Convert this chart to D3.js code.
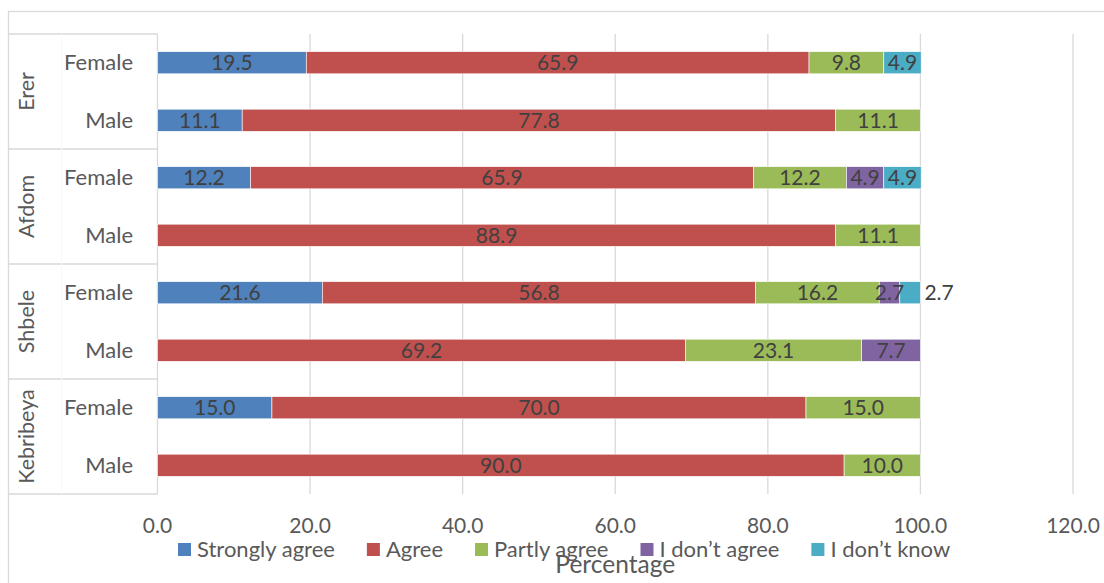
<!DOCTYPE html>
<html>
<head>
<meta charset="utf-8">
<script src="https://cdn.jsdelivr.net/npm/d3@7"></script>
<style>
  html, body { margin: 0; padding: 0; background: #fff; }
  svg { display: block; font-family: Lato, "Open Sans", sans-serif; }
</style>
</head>
<body>
<svg id="chart" width="1104" height="583"></svg>
<script>
// Sites (outer category) and respondent groups (inner category), top to bottom
const sites = ["Erer", "Afdom", "Shbele", "Kebribeya"];
const genders = ["Female", "Male"];

// Response categories in stacking order
const responses = ["Strongly agree", "Agree", "Partly agree", "I don\u2019t agree", "I don\u2019t know"];
const responseColors = ["#4F81BD", "#C0504D", "#9BBB59", "#8064A2", "#4BACC6"];

// Percentages per row (site/gender), one value per response category
const ererFemale      = [19.5, 65.9, 9.8, 0, 4.9];
const ererMale        = [11.1, 77.8, 11.1, 0, 0];
const afdomFemale     = [12.2, 65.9, 12.2, 4.9, 4.9];
const afdomMale       = [0, 88.9, 11.1, 0, 0];
const shbeleFemale    = [21.6, 56.8, 16.2, 2.7, 2.7];
const shbeleMale      = [0, 69.2, 23.1, 7.7, 0];
const kebribeyaFemale = [15.0, 70.0, 15.0, 0, 0];
const kebribeyaMale   = [0, 90.0, 10.0, 0, 0];

const rowValues = [ererFemale, ererMale, afdomFemale, afdomMale,
                   shbeleFemale, shbeleMale, kebribeyaFemale, kebribeyaMale];

// Axis ticks
const xTicks = [0, 20, 40, 60, 80, 100, 120];
const xTitle = "Percentage";

// Build row records
const rows = [];
sites.forEach((s, i) => genders.forEach((g, j) => {
  rows.push({ key: s + "|" + g, site: s, gender: g, values: rowValues[i * genders.length + j] });
}));

const svg = d3.select("#chart");

const plot = { left: 157.5, right: 1073, top: 34, bottom: 494 };
const chartLeft = 8, chartTop = 11;
const gridColor = "#d9d9d9";
const textGrey = "#595959";
const labelGrey = "#404040";

// Chart area border
svg.append("rect")
  .attr("x", chartLeft + 0.5).attr("y", chartTop + 0.5)
  .attr("width", 1200).attr("height", 700)
  .attr("fill", "none").attr("stroke", gridColor).attr("stroke-width", 1.3);

const x = d3.scaleLinear().domain([0, 120]).range([plot.left, plot.right]);
const y = d3.scaleBand().domain(rows.map(r => r.key)).range([plot.top, plot.bottom]).padding(0);
const barH = y.bandwidth() * 0.385;

// Vertical gridlines
svg.append("g").selectAll("line").data(xTicks.filter(t => t > 0)).join("line")
  .attr("x1", d => x(d)).attr("x2", d => x(d))
  .attr("y1", plot.top).attr("y2", plot.bottom)
  .attr("stroke", gridColor).attr("stroke-width", 1.3);

// Category axis line
svg.append("line")
  .attr("x1", x(0)).attr("x2", x(0))
  .attr("y1", plot.top).attr("y2", plot.bottom)
  .attr("stroke", gridColor).attr("stroke-width", 1.3);

// Multi-level category box: group dividers
const groupEdges = sites.map(s => y(s + "|" + genders[0])).concat([plot.bottom]);
svg.append("g").selectAll("line").data(groupEdges).join("line")
  .attr("x1", chartLeft).attr("x2", x(0))
  .attr("y1", d => d).attr("y2", d => d)
  .attr("stroke", gridColor).attr("stroke-width", 1.3);

// Very faint divider between the two label levels
svg.append("line")
  .attr("x1", 61.5).attr("x2", 61.5)
  .attr("y1", plot.top).attr("y2", plot.bottom)
  .attr("stroke", "#f8f8f8").attr("stroke-width", 1);

// Inner category labels
svg.append("g").selectAll("text").data(rows).join("text")
  .attr("x", 133).attr("y", d => y(d.key) + y.bandwidth() / 2)
  .attr("dy", "0.35em")
  .attr("text-anchor", "end")
  .attr("fill", textGrey).attr("font-size", 22)
  .text(d => d.gender);

// Outer category labels (rotated)
svg.append("g").selectAll("text").data(sites).join("text")
  .attr("transform", (s, i) => {
    const cy = (groupEdges[i] + groupEdges[i + 1]) / 2;
    return `translate(26,${cy}) rotate(-90)`;
  })
  .attr("dy", "0.35em")
  .attr("text-anchor", "middle")
  .attr("fill", textGrey).attr("font-size", 21.5)
  .text(d => d);

// Stacked segments
const segs = [];
rows.forEach(r => {
  let acc = 0;
  r.values.forEach((v, k) => {
    if (v > 0) segs.push({ row: r, k, v, x0: acc, x1: acc + v, last: k === responses.length - 1 && r.site === "Shbele" });
    acc += v;
  });
});

svg.append("g").selectAll("rect").data(segs).join("rect")
  .attr("x", d => x(d.x0))
  .attr("y", d => y(d.row.key) + (y.bandwidth() - barH) / 2)
  .attr("width", d => x(d.x1) - x(d.x0))
  .attr("height", barH)
  .attr("fill", d => responseColors[d.k])
  .attr("stroke", "#ffffff").attr("stroke-width", 0.6);

// Value labels (centred in segment; the narrow Shbele "I don't know" one sits outside the bar end)
svg.append("g").selectAll("text").data(segs).join("text")
  .attr("x", d => d.last ? x(d.x1) + 4 : (x(d.x0) + x(d.x1)) / 2)
  .attr("y", d => y(d.row.key) + y.bandwidth() / 2)
  .attr("dy", "0.36em")
  .attr("text-anchor", d => d.last ? "start" : "middle")
  .attr("fill", labelGrey).attr("font-size", 21)
  .text(d => d.v.toFixed(1));

// X tick labels
svg.append("g").selectAll("text").data(xTicks).join("text")
  .attr("x", d => x(d)).attr("y", 533)
  .attr("text-anchor", "middle")
  .attr("fill", textGrey).attr("font-size", 21)
  .text(d => d.toFixed(1));

// Legend
const legend = svg.append("g");
let lx = 178;
responses.forEach((name, k) => {
  legend.append("rect")
    .attr("x", lx).attr("y", 543).attr("width", 13).attr("height", 13)
    .attr("fill", responseColors[k]);
  const t = legend.append("text")
    .attr("x", lx + 19).attr("y", 557)
    .attr("fill", textGrey).attr("font-size", 22)
    .text(name);
  lx += 19 + t.node().getComputedTextLength() + 32;
});

// Axis title
svg.append("text")
  .attr("x", (plot.left + plot.right) / 2).attr("y", 573)
  .attr("text-anchor", "middle")
  .attr("fill", textGrey).attr("font-size", 24.5)
  .text(xTitle);
</script>
</body>
</html>
